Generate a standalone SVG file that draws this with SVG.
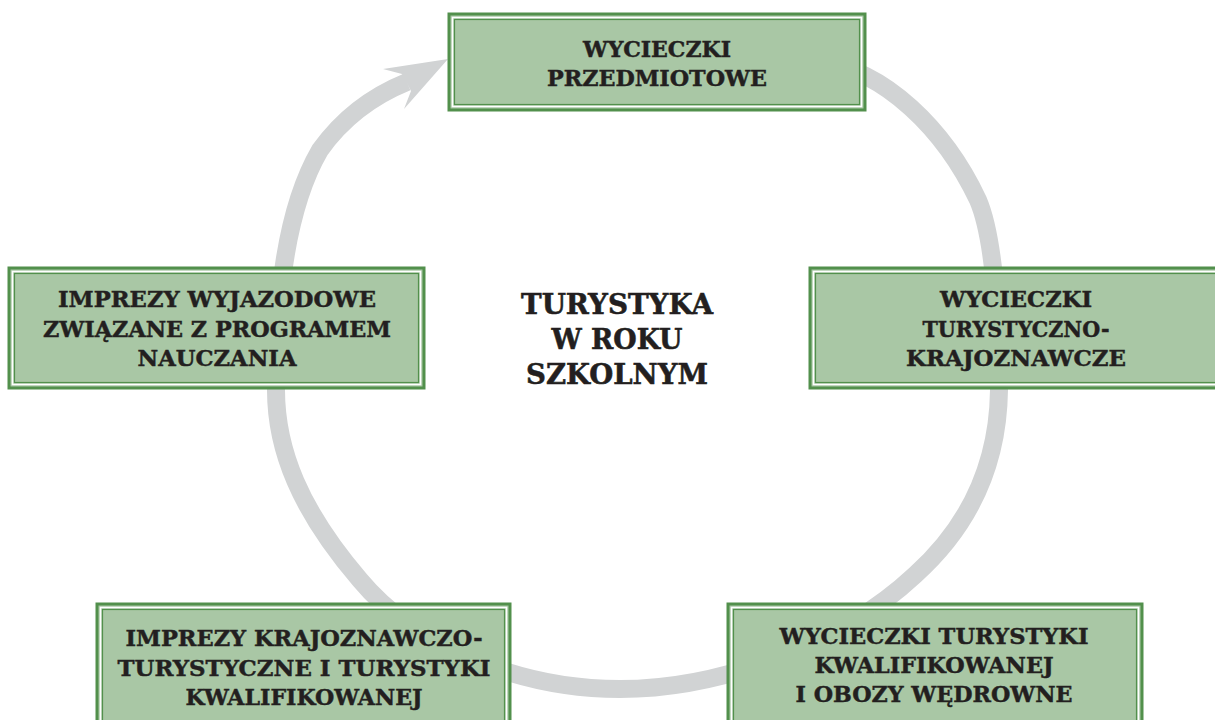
<svg xmlns="http://www.w3.org/2000/svg" width="1215" height="720" viewBox="0 0 1215 720">
<style>
.box{fill:#a9c7a5;stroke:#52904c;stroke-width:3}
.gap{fill:none;stroke:#ffffff;stroke-width:1.6}
.inner{fill:none;stroke:#52904c;stroke-width:1.2}
.t{font-family:"DejaVu Serif","Liberation Serif",serif;font-weight:bold;font-size:21.5px;fill:#231f20;stroke:#231f20;stroke-width:0.45;text-anchor:middle}
.c{font-size:27px;stroke-width:0.55}
.ring{fill:none;stroke:#d1d3d4;stroke-width:18}
</style>
<rect width="1215" height="720" fill="#ffffff"/>
<g id="connectors">
<path class="ring" d="M 820 62 C 885 70 945 130 978 200 C 993 235 999 310 999 390 C 998 470 965 530 915 575 C 840 645 720 689 620 689 C 510 689 410 640 360 580 C 300 510 276 450 276 390 C 276 300 285 210 320 150 C 345 115 375 95 407 82"/>
<polygon points="448,59 383,69 402,74 411,91 404,109" fill="#d1d3d4"/>
</g>
<g id="n-top">
<rect class="box" x="449" y="14" width="416" height="96"/>
<rect class="gap" x="452.5" y="17.5" width="409" height="89"/>
<rect class="inner" x="454.5" y="19.5" width="405" height="85"/>
<text class="t" x="657" y="57" textLength="148" lengthAdjust="spacingAndGlyphs">WYCIECZKI</text>
<text class="t" x="657" y="86" textLength="220" lengthAdjust="spacingAndGlyphs">PRZEDMIOTOWE</text>
</g>
<g id="n-left">
<rect class="box" x="9" y="268" width="415" height="120"/>
<rect class="gap" x="12.5" y="271.5" width="408" height="113"/>
<rect class="inner" x="14.5" y="273.5" width="404" height="109"/>
<text class="t" x="217" y="307" textLength="318" lengthAdjust="spacingAndGlyphs">IMPREZY WYJAZODOWE</text>
<text class="t" x="217" y="337" textLength="348" lengthAdjust="spacingAndGlyphs">ZWIĄZANE Z PROGRAMEM</text>
<text class="t" x="217" y="366" textLength="159" lengthAdjust="spacingAndGlyphs">NAUCZANIA</text>
</g>
<g id="n-right">
<rect class="box" x="810" y="268" width="416" height="120"/>
<rect class="gap" x="813.5" y="271.5" width="409" height="113"/>
<rect class="inner" x="815.5" y="273.5" width="405" height="109"/>
<text class="t" x="1016" y="307" textLength="152" lengthAdjust="spacingAndGlyphs">WYCIECZKI</text>
<text class="t" x="1016" y="337" textLength="187" lengthAdjust="spacingAndGlyphs">TURYSTYCZNO-</text>
<text class="t" x="1016" y="366" textLength="220" lengthAdjust="spacingAndGlyphs">KRAJOZNAWCZE</text>
</g>
<g id="n-bottom-left">
<rect class="box" x="97" y="604" width="413" height="130"/>
<rect class="gap" x="100.5" y="607.5" width="406" height="123"/>
<rect class="inner" x="102.5" y="609.5" width="402" height="119"/>
<text class="t" x="304" y="646" textLength="357" lengthAdjust="spacingAndGlyphs">IMPREZY KRAJOZNAWCZO-</text>
<text class="t" x="304" y="676" textLength="373" lengthAdjust="spacingAndGlyphs">TURYSTYCZNE I TURYSTYKI</text>
<text class="t" x="304" y="705" textLength="237" lengthAdjust="spacingAndGlyphs">KWALIFIKOWANEJ</text>
</g>
<g id="n-bottom-right">
<rect class="box" x="728" y="604" width="414" height="130"/>
<rect class="gap" x="731.5" y="607.5" width="407" height="123"/>
<rect class="inner" x="733.5" y="609.5" width="403" height="119"/>
<text class="t" x="934" y="644" textLength="309" lengthAdjust="spacingAndGlyphs">WYCIECZKI TURYSTYKI</text>
<text class="t" x="934" y="673" textLength="239" lengthAdjust="spacingAndGlyphs">KWALIFIKOWANEJ</text>
<text class="t" x="934" y="702" textLength="277" lengthAdjust="spacingAndGlyphs">I OBOZY WĘDROWNE</text>
</g>
<g id="n-center">
<text class="t c" x="617" y="314" textLength="192" lengthAdjust="spacingAndGlyphs">TURYSTYKA</text>
<text class="t c" x="617" y="349" textLength="131" lengthAdjust="spacingAndGlyphs">W ROKU</text>
<text class="t c" x="617" y="384" textLength="182" lengthAdjust="spacingAndGlyphs">SZKOLNYM</text>
</g>
</svg>
